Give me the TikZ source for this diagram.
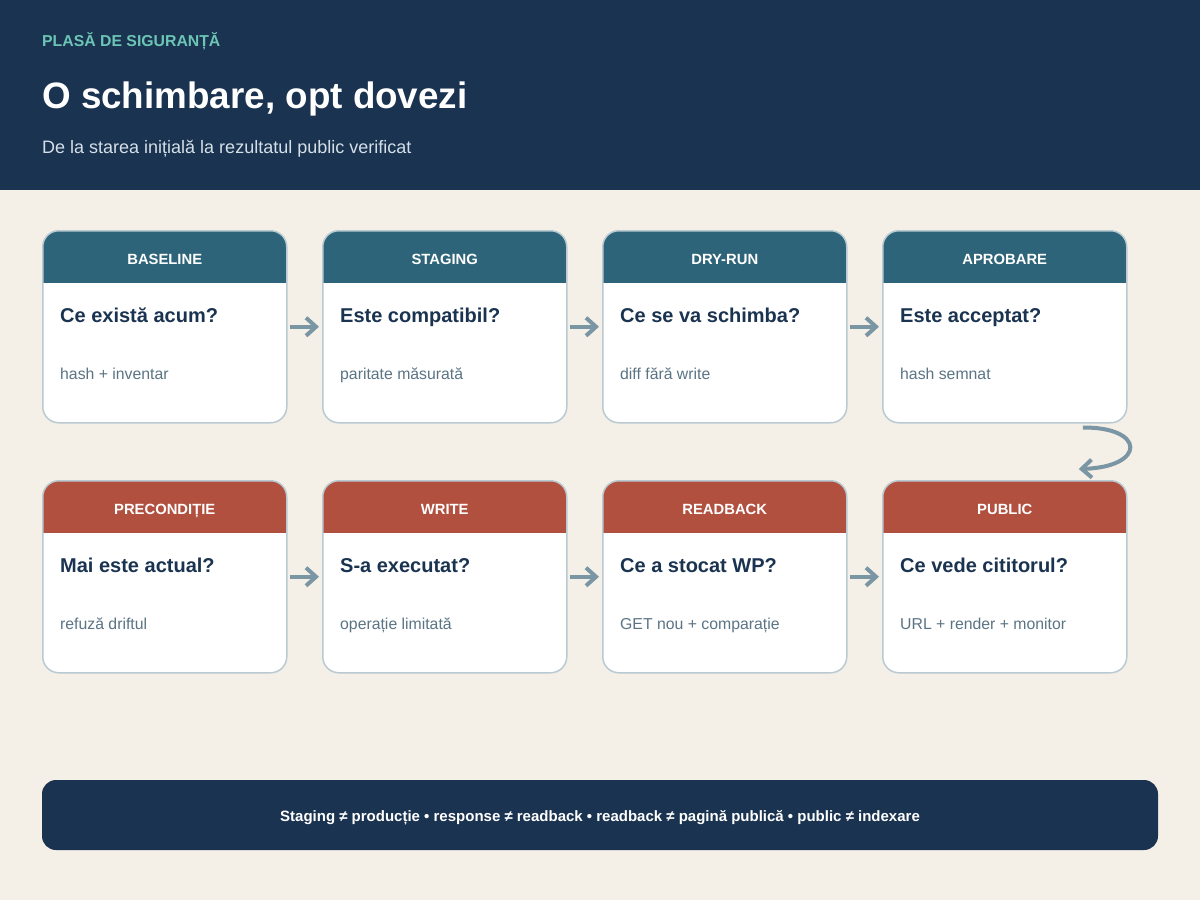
\documentclass[tikz,border=0pt]{standalone}
\usepackage{fontspec}
\setmainfont{Liberation Sans}
\usetikzlibrary{arrows.meta}

\definecolor{navy}{HTML}{1A3350}
\definecolor{mint}{HTML}{6CC5B5}
\definecolor{paper}{HTML}{F4EFE7}
\definecolor{steel}{HTML}{2E6479}
\definecolor{brick}{HTML}{B25040}
\definecolor{cardline}{HTML}{B9CAD2}
\definecolor{notegray}{HTML}{5B7484}
\definecolor{flowgray}{HTML}{7A96A4}
\definecolor{subtext}{HTML}{D5DFE8}

\tikzset{
  card/.style={draw=cardline, line width=1.5pt, fill=white, rounded corners=16pt,
    minimum width=244pt, minimum height=192pt, anchor=north west, inner sep=0pt,
    path picture={\fill[#1, sharp corners] (path picture bounding box.north west) rectangle
      ([yshift=-52pt]path picture bounding box.north east);}},
  cardhead/.style={text=white, anchor=base, inner sep=0pt, font=\fontsize{14.8}{17}\selectfont\bfseries},
  question/.style={text=navy, anchor=base west, inner sep=0pt, font=\fontsize{20}{24}\selectfont\bfseries},
  note/.style={text=notegray, anchor=base west, inner sep=0pt, font=\fontsize{15.8}{19}\selectfont},
  flow/.style={draw=flowgray, line width=4pt, -{Straight Barb[length=10pt,width=18pt]}}
}

\begin{document}
\begin{tikzpicture}[x=1pt, y=-1pt]
    % Background and header band
    \fill[paper] (0,0) rectangle (1200,900);
    \fill[navy] (0,0) rectangle (1200,190);
    \useasboundingbox (0,0) rectangle (1200,900);
    \node[anchor=base west, inner sep=0pt, text=mint, font=\fontsize{15.8}{18}\selectfont\bfseries] (kicker) at (42,46) {PLASĂ DE SIGURANȚĂ};
    \node[anchor=base west, inner sep=0pt, text=white, font=\fontsize{36.8}{44}\selectfont\bfseries] (title) at (42,108) {O schimbare, opt dovezi};
    \node[anchor=base west, inner sep=0pt, text=subtext, font=\fontsize{18}{21}\selectfont] (subtitle) at (42,153) {De la starea inițială la rezultatul public verificat};
    % Stage cards
    \foreach \id/\x/\y/\col/\lab/\q/\n in {
        1/42/230/steel/BASELINE/Ce există acum?/hash + inventar,
        2/322/230/steel/STAGING/Este compatibil?/paritate măsurată,
        3/602/230/steel/DRY-RUN/Ce se va schimba?/diff fără write,
        4/882/230/steel/APROBARE/Este acceptat?/hash semnat,
        5/42/480/brick/PRECONDIȚIE/Mai este actual?/refuză driftul,
        6/322/480/brick/WRITE/S-a executat?/operație limitată,
        7/602/480/brick/READBACK/Ce a stocat WP?/GET nou + comparație,
        8/882/480/brick/PUBLIC/Ce vede cititorul?/URL + render + monitor} {
        \node[card=\col] (s\id) at (\x,\y) {};
        \node[cardhead] (h\id) at ([yshift=-34pt]s\id.north) {\lab};
        \node[question] (q\id) at ([xshift=18pt,yshift=-92pt]s\id.north west) {\q};
        \node[note] (n\id) at ([xshift=18pt,yshift=-149pt]s\id.north west) {\n};
    }
    % Flow arrows
    \foreach \a/\b in {1/2,2/3,3/4,5/6,6/7,7/8}
        \draw[flow, shorten <=2pt, shorten >=3pt] (s\a.east) -- (s\b.west);
    % Turn to second row
    \coordinate (turnA) at ([xshift=78pt,yshift=-4pt]s4.south);
    \coordinate (turnB) at ([xshift=74pt,yshift=11pt]s8.north);
    \draw[flow] (turnA) .. controls (1146,427) and (1146,467) .. (turnB);
    % Footer
    \node[fill=navy, rounded corners=14pt, minimum width=1116pt, minimum height=70pt] (footer) at (600,815) {};
    \node[anchor=base, inner sep=0pt, text=white, font=\fontsize{15}{18}\selectfont\bfseries] (footnote) at ([yshift=-6pt]footer.center)
      {Staging ≠ producție • response ≠ readback • readback ≠ pagină publică • public ≠ indexare};
\end{tikzpicture}
\end{document}
